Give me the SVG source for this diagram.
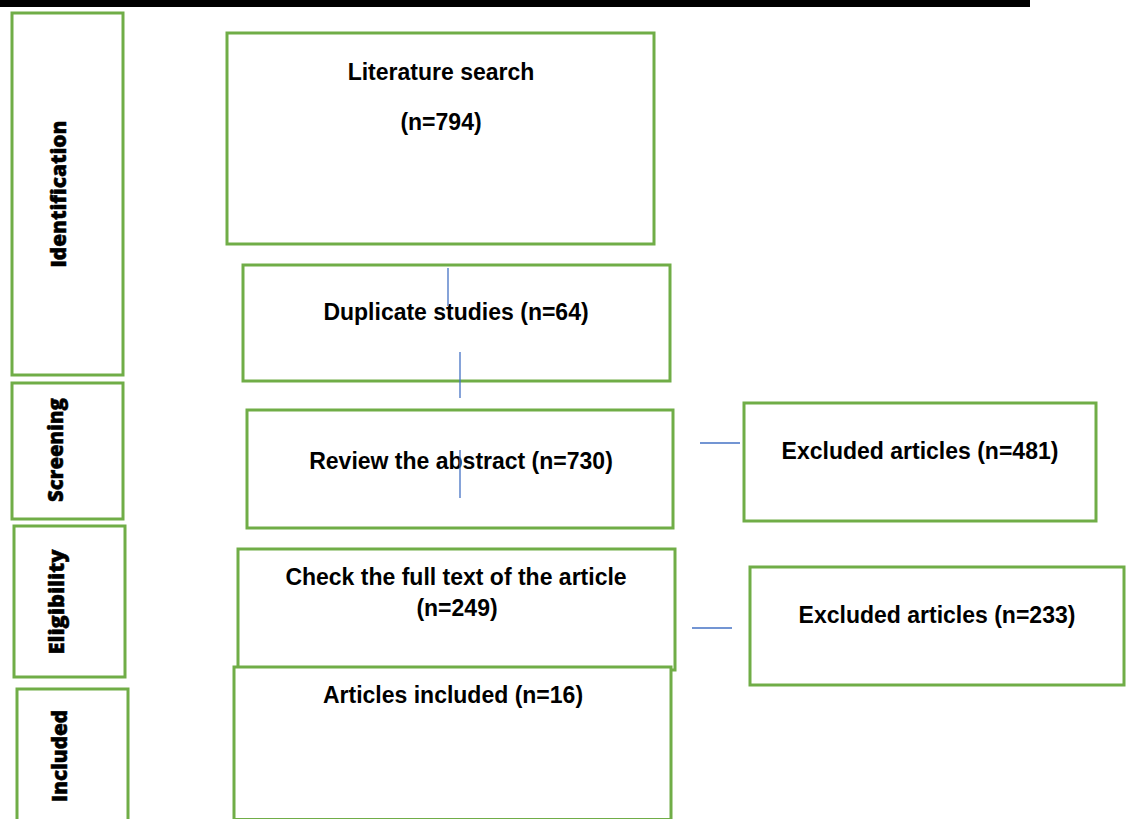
<svg xmlns="http://www.w3.org/2000/svg" width="1131" height="819" viewBox="0 0 1131 819">
<style>
.box{fill:#ffffff;stroke:#70AD47;stroke-width:3}
.t{font-family:"Liberation Sans",Arial,sans-serif;font-weight:bold;font-size:23px;fill:#000;text-anchor:middle}
.side{font-family:"Open Sans","Liberation Sans",sans-serif;font-weight:800;font-size:21px;fill:#000;stroke:#000;stroke-width:0.5;text-anchor:middle}
.c{stroke:#4472C4;stroke-width:1.3;fill:none}
</style>
<rect x="0" y="0" width="1131" height="819" fill="#ffffff"/>
<rect x="0" y="0" width="1030" height="7" fill="#000000"/>
<g id="phase-identification">
<rect class="box" x="12" y="13" width="111" height="362"/>
<text class="side" transform="translate(66,194) rotate(-90)" textLength="147" lengthAdjust="spacingAndGlyphs">Identification</text>
</g>
<g id="phase-screening">
<rect class="box" x="12" y="383" width="111" height="136"/>
<text class="side" transform="translate(63,450) rotate(-90)" textLength="104" lengthAdjust="spacingAndGlyphs">Screening</text>
</g>
<g id="phase-eligibility">
<rect class="box" x="14" y="526" width="111" height="151"/>
<text class="side" transform="translate(64,602) rotate(-90)" textLength="105" lengthAdjust="spacingAndGlyphs">Eligibility</text>
</g>
<g id="phase-included">
<rect class="box" x="17" y="689" width="111" height="140"/>
<text class="side" transform="translate(67,756) rotate(-90)" textLength="92" lengthAdjust="spacingAndGlyphs">Included</text>
</g>
<g id="literature-search">
<rect class="box" x="227" y="33" width="427" height="211"/>
<text class="t" x="441" y="80">Literature search</text>
<text class="t" x="441" y="130">(n=794)</text>
</g>
<g id="duplicate-studies">
<rect class="box" x="243" y="265" width="427" height="116"/>
<text class="t" x="456" y="320">Duplicate studies (n=64)</text>
</g>
<g id="review-abstract">
<rect class="box" x="247" y="410" width="426" height="118"/>
<text class="t" x="461" y="469">Review the abstract (n=730)</text>
</g>
<g id="excluded-481">
<rect class="box" x="744" y="403" width="352" height="118"/>
<text class="t" x="920" y="459">Excluded articles (n=481)</text>
</g>
<g id="check-full-text">
<rect class="box" x="238" y="549" width="437" height="121"/>
<text class="t" x="456" y="585">Check the full text of the article</text>
<text class="t" x="457" y="616">(n=249)</text>
</g>
<g id="excluded-233">
<rect class="box" x="750" y="567" width="374" height="118"/>
<text class="t" x="937" y="623">Excluded articles (n=233)</text>
</g>
<g id="articles-included">
<rect class="box" x="234" y="667" width="437" height="152.5"/>
<text class="t" x="453" y="703">Articles included (n=16)</text>
</g>
<g id="connectors">
<line class="c" x1="448" y1="268" x2="448" y2="306"/>
<line class="c" x1="460" y1="352" x2="460" y2="398"/>
<line class="c" x1="460" y1="450" x2="460" y2="498"/>
<line class="c" x1="700" y1="443" x2="740" y2="443"/>
<line class="c" x1="692" y1="628" x2="732" y2="628"/>
</g>
</svg>
